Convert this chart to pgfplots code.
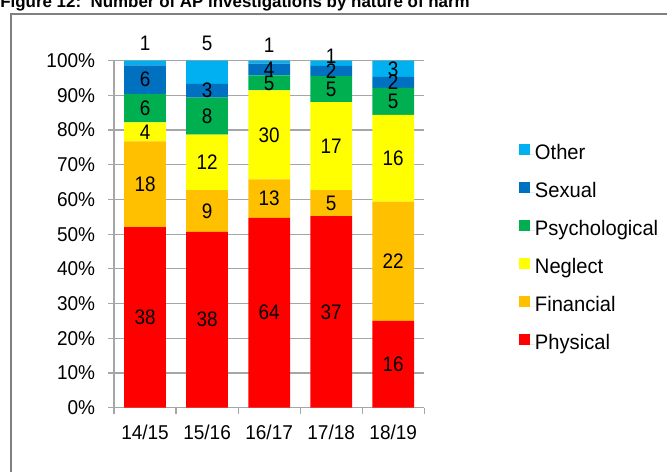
\documentclass[border=0pt]{standalone}
\usepackage{pgfplots}
\usepackage{pgfplotstable}
\pgfplotsset{compat=1.18}
\usepackage{fontspec}
\setmainfont{Liberation Sans}
\newfontfamily\tkfont{Liberation Sans}[FakeStretch=0.95]
\newfontfamily\dlfont{Liberation Sans}[FakeStretch=0.90]
\newfontfamily\lgfont{Liberation Sans}[FakeStretch=0.96]

\definecolor{cOther}{HTML}{00B0F0}
\definecolor{cSexual}{HTML}{0070C0}
\definecolor{cPsych}{HTML}{00B050}
\definecolor{cNeglect}{HTML}{FFFF00}
\definecolor{cFin}{HTML}{FFC000}
\definecolor{cPhys}{HTML}{FF0000}
\definecolor{cAxis}{HTML}{A6A6A6}
\definecolor{cFrame}{HTML}{808080}

% counts of investigations
\pgfplotstableread{
x phys fin neg psy sex oth
0 38 18 4 6 6 1
1 38 9 12 8 3 5
2 64 13 30 5 4 1
3 37 5 17 5 2 1
4 16 22 16 5 2 3
}\counts

% label positions (percent of bar) and label text
\pgfplotstableread{
x y lab
0 26.03 38
0 64.38 18
0 79.45 4
0 86.30 6
0 94.52 6
0 105.0 1
1 25.33 38
1 56.67 9
1 70.67 12
1 84.00 8
1 91.33 3
1 105.0 5
2 27.35 64
2 60.26 13
2 78.63 30
2 93.59 5
2 97.44 4
2 104.5 1
3 27.61 37
3 58.96 5
3 75.37 17
3 91.79 5
3 97.01 2
3 101.3 1
4 12.50 16
4 42.19 22
4 71.88 16
4 88.28 5
4 93.75 2
4 97.66 3
}\labels

\newcommand{\tot}{(\thisrow{phys}+\thisrow{fin}+\thisrow{neg}+\thisrow{psy}+\thisrow{sex}+\thisrow{oth})}

\begin{document}
\begin{tikzpicture}
\useasboundingbox (0,0) rectangle (500.25pt,353.25pt);
\node[anchor=base west, inner sep=0pt, font=\bfseries\fontsize{12.7}{14}\selectfont] at (0pt,347.6pt) {Figure 12:\ \ Number of AP investigations by nature of harm};
\draw[cFrame, line width=1.5pt] (7.9pt,-5pt) -- (7.9pt,343pt) -- (510pt,343pt);

\pgfplotsset{
  mybase/.style={
    at={(85.5pt,47.5pt)}, anchor=south west, scale only axis,
    width=232.7pt, height=260.25pt,
    xmin=-0.5, xmax=4.5, ymin=0, ymax=100,
  }
}

\begin{axis}[
  mybase,
  ybar stacked, bar width=31.3pt,
  xtick={0,1,2,3,4},
  xticklabels={14/15,15/16,16/17,17/18,18/19},
  minor xtick={-0.5,0.5,1.5,2.5,3.5,4.5},
  ytick={0,10,...,100},
  yticklabel={\pgfmathprintnumber{\tick}\%},
  /pgf/number format/assume math mode=true,
  axis x line*=bottom, axis y line*=left,
  axis line style={-, draw=cAxis, line width=0.9pt},
  ymajorgrids, grid style={draw=cAxis, line width=0.9pt},
  tick align=outside,
  major tick length=4.5pt, minor tick length=4.5pt,
  major x tick style={draw=none},
  minor x tick style={draw=cAxis, line width=0.9pt},
  y tick style={draw=cAxis, line width=0.9pt},
  ticklabel style={font=\tkfont\fontsize{15}{17}\selectfont, text=black},
  yticklabel style={anchor=east, inner sep=0pt, xshift=-9.5pt},
  xticklabel style={anchor=north, inner sep=0pt, yshift=-8pt},
  legend style={at={(1.3035,0.456)}, anchor=west, draw=none, fill=none,
    inner sep=0pt, row sep=12.5pt,
    font=\lgfont\fontsize{15.75}{18}\selectfont,
    nodes={inner sep=0pt, text height=12pt, text depth=4pt}},
  legend cell align=left,
  reverse legend,
  legend image code/.code={\fill[#1] (0pt,-0.6pt) rectangle (8.4pt,7.8pt); \path (0pt,0pt) -- (12.2pt,0pt);},
]
\addplot[fill=cPhys, draw=none] table[x=x, y expr=\thisrow{phys}/\tot*100] {\counts};
\addlegendentry{Physical}
\addplot[fill=cFin, draw=none] table[x=x, y expr=\thisrow{fin}/\tot*100] {\counts};
\addlegendentry{Financial}
\addplot[fill=cNeglect, draw=none] table[x=x, y expr=\thisrow{neg}/\tot*100] {\counts};
\addlegendentry{Neglect}
\addplot[fill=cPsych, draw=none] table[x=x, y expr=\thisrow{psy}/\tot*100] {\counts};
\addlegendentry{Psychological}
\addplot[fill=cSexual, draw=none] table[x=x, y expr=\thisrow{sex}/\tot*100] {\counts};
\addlegendentry{Sexual}
\addplot[fill=cOther, draw=none] table[x=x, y expr=\thisrow{oth}/\tot*100] {\counts};
\addlegendentry{Other}
\end{axis}

\begin{axis}[mybase, hide axis, clip=false]
\addplot[draw=none, no markers, nodes near coords, point meta=explicit symbolic,
  every node near coord/.style={anchor=center, inner sep=0pt, text=black,
    font=\dlfont\fontsize{15.75}{18}\selectfont}]
  table[x=x, y=y, meta=lab] {\labels};
\end{axis}
\end{tikzpicture}
\end{document}
